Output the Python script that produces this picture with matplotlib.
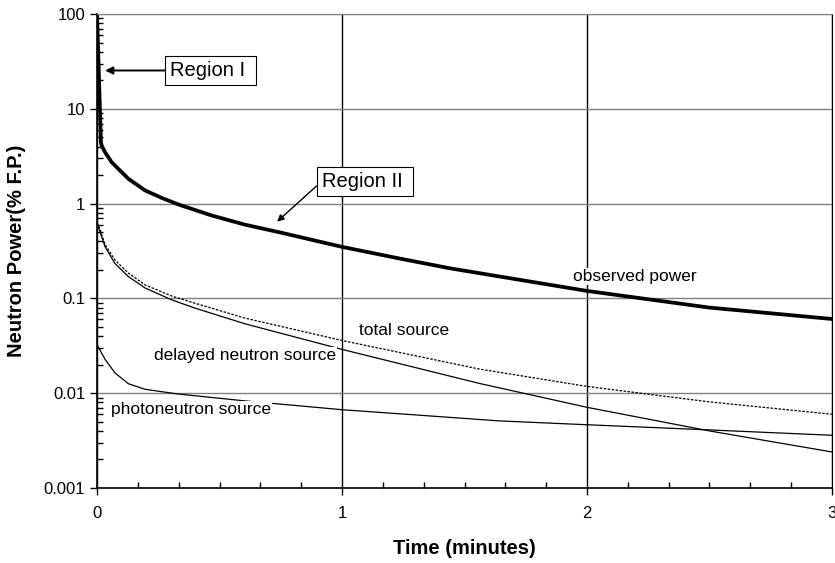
import matplotlib
matplotlib.use("Agg")
from matplotlib import pyplot as plt
from matplotlib.ticker import FixedLocator, FuncFormatter, LogLocator, NullFormatter

plt.rcParams["font.family"] = ["Liberation Sans", "DejaVu Sans"]

# observed power (% F.P.) vs time (minutes)
obs_t = [0.0, 0.016, 0.019, 0.033, 0.06, 0.128, 0.196, 0.264, 0.332, 0.468, 0.604,
         0.75, 1.0, 1.237, 1.44, 2.0, 2.5, 3.0]
obs_p = [100, 4.4, 4.1, 3.48, 2.73, 1.83, 1.38, 1.15, 0.98, 0.75, 0.60,
         0.495, 0.35, 0.263, 0.208, 0.12, 0.080, 0.0607]

# delayed neutron source
del_t = [0.0, 0.005, 0.033, 0.073, 0.128, 0.196, 0.305, 0.4, 0.604, 1.0, 1.56, 2.0, 2.5, 3.0]
del_p = [0.6, 0.57, 0.35, 0.234, 0.17, 0.129, 0.0966, 0.079, 0.054, 0.029, 0.0127, 0.0071, 0.0040, 0.0024]

# photoneutron source
pho_t = [0.0, 0.033, 0.073, 0.128, 0.196, 0.332, 0.604, 1.0, 1.645, 2.0, 2.5, 3.0]
pho_p = [0.0326, 0.0227, 0.0164, 0.0126, 0.011, 0.0098, 0.0083, 0.0067, 0.0051, 0.00465, 0.0041, 0.0036]

# total source
tot_t = [0.0, 0.005, 0.033, 0.073, 0.128, 0.196, 0.305, 0.4, 0.604, 1.0, 1.56, 2.0, 2.5, 3.0]
tot_p = [0.63, 0.60, 0.37, 0.254, 0.185, 0.139, 0.106, 0.089, 0.062, 0.036, 0.018, 0.0118, 0.0081, 0.0060]

y_ticks = [0.001, 0.01, 0.1, 1, 10, 100]
x_ticks = [0, 1, 2, 3]

fig = plt.figure(figsize=(8.35, 5.63), dpi=100)
ax = fig.add_axes([0.1162, 0.1332, 0.8802, 0.8418])

ax.plot(obs_t, obs_p, color="black", lw=2.7, solid_joinstyle="miter")
ax.plot(del_t, del_p, color="black", lw=0.9)
ax.plot(pho_t, pho_p, color="black", lw=0.9)
ax.plot(tot_t, tot_p, color="black", lw=0.9, linestyle=(0, (2, 1.2)))

ax.set_yscale("log")
ax.set_xlim(0, 3)
ax.set_ylim(0.001, 100)

ax.xaxis.set_major_locator(FixedLocator(x_ticks))
ax.xaxis.set_minor_locator(FixedLocator([i / 6 for i in range(19) if i % 6]))
ax.yaxis.set_major_locator(FixedLocator(y_ticks))
ax.yaxis.set_minor_locator(LogLocator(base=10, subs=range(2, 10)))
ax.yaxis.set_major_formatter(FuncFormatter(lambda v, p: "%g" % v))
ax.yaxis.set_minor_formatter(NullFormatter())

ax.tick_params(which="major", direction="out", length=5, width=1, labelsize=12, colors="black")
ax.tick_params(which="minor", direction="in", length=4, width=1)
ax.tick_params(axis="x", which="major", pad=8)

# grid: grey horizontal, black vertical
ax.yaxis.grid(True, which="major", color="#808080", lw=1)
ax.xaxis.grid(True, which="major", color="black", lw=1)
for s in ["left", "bottom"]:
    ax.spines[s].set_linewidth(1.2)
ax.spines["top"].set_color("#808080")
ax.spines["right"].set_color("black")

ax.set_xlabel("Time (minutes)", fontsize=14.5, fontweight="bold", labelpad=13)
ax.set_ylabel("Neutron Power(% F.P.)", fontsize=14.5, fontweight="bold", labelpad=13)

# curve labels
lbl = dict(fontsize=12.5, ha="center", va="center",
           bbox=dict(facecolor="white", edgecolor="none", pad=1))
ax.text(2.196, 0.17, "observed power", **lbl)
ax.text(1.255, 0.0464, "total source", **lbl)
ax.text(0.604, 0.0248, "delayed neutron source", **lbl)
ax.text(0.382, 0.00667, "photoneutron source", **lbl)

box = dict(boxstyle="square,pad=0.25", facecolor="white", edgecolor="black", lw=0.8)
ax.annotate("Region I ", xy=(0.033, 25.4), xytext=(0.298, 25.4), fontsize=14.5,
            ha="left", va="center", bbox=box,
            arrowprops=dict(arrowstyle="-|>", color="black", lw=1.4, shrinkA=0, shrinkB=0,
                            mutation_scale=11))
ax.annotate("Region II ", xy=(0.735, 0.646), xytext=(0.918, 1.73), fontsize=14.5,
            ha="left", va="center", bbox=box,
            arrowprops=dict(arrowstyle="-|>", color="black", lw=1.0, shrinkA=0, shrinkB=0,
                            mutation_scale=10, relpos=(0, 0.5)))

fig.savefig("out.png", dpi=100)
